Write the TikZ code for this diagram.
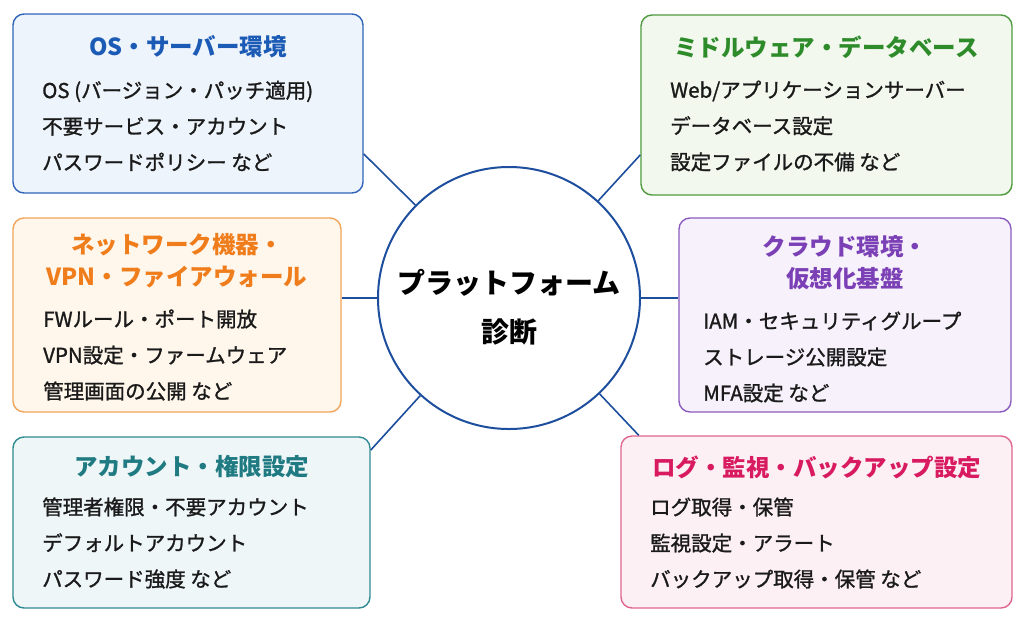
\documentclass[tikz,border=0pt]{standalone}
\usepackage{fontspec}
\setmainfont{Noto Sans CJK JP}
\newfontfamily\bodyfont{Noto Sans CJK JP}[FakeBold=1.2]
\definecolor{osB}{HTML}{2F64B8}\definecolor{osT}{HTML}{1B5BB5}\definecolor{osF}{HTML}{EEF4FC}
\definecolor{mwB}{HTML}{4E9A3E}\definecolor{mwT}{HTML}{2E8B2A}\definecolor{mwF}{HTML}{F2F8EE}
\definecolor{nwB}{HTML}{F2A55A}\definecolor{nwT}{HTML}{F07D1C}\definecolor{nwF}{HTML}{FFF6EC}
\definecolor{clB}{HTML}{8B5CBF}\definecolor{clT}{HTML}{7B40B5}\definecolor{clF}{HTML}{F6F1FB}
\definecolor{acB}{HTML}{2F8A92}\definecolor{acT}{HTML}{1F7A82}\definecolor{acF}{HTML}{EEF6F8}
\definecolor{lgB}{HTML}{E0658F}\definecolor{lgT}{HTML}{D81B60}\definecolor{lgF}{HTML}{FDF0F4}
\definecolor{hubc}{HTML}{1E4E9E}
\definecolor{bodyc}{HTML}{1A1A1A}
\begin{document}
\begin{tikzpicture}[x=1pt,y=-1pt,
  box/.style={rectangle, rounded corners=11pt, line width=1.4pt, inner sep=0pt},
  ttl/.style={font=\fontsize{23.5}{32}\selectfont\bfseries, align=center, inner sep=0pt},
  bdy/.style={font=\bodyfont\fontsize{20.5}{36}\selectfont, align=left, anchor=west, inner sep=0pt, text=bodyc},
  link/.style={draw=hubc, line width=1.6pt}]
\useasboundingbox (0,0) rectangle (1024,627);
\fill[white] (0,0) rectangle (1024,627);

% hub
\node[circle, draw=hubc, line width=2pt, fill=white, minimum size=262pt, inner sep=0pt] (hub) at (509,298) {};
\node[font=\fontsize{28}{49}\selectfont\bfseries, align=center, text=black, inner sep=0pt] (hubtxt) at (509,307) {プラットフォーム\\診断};

% boxes
\node[box, draw=osB, fill=osF, minimum width=350pt, minimum height=179pt] (os) at (188,103.5) {};
\node[box, draw=mwB, fill=mwF, minimum width=371pt, minimum height=180pt] (mw) at (826.5,105) {};
\node[box, draw=nwB, fill=nwF, minimum width=328pt, minimum height=194pt] (nw) at (177,315) {};
\node[box, draw=clB, fill=clF, minimum width=332pt, minimum height=194pt] (cl) at (845,315) {};
\node[box, draw=acB, fill=acF, minimum width=357pt, minimum height=171pt] (ac) at (191.5,522.5) {};
\node[box, draw=lgB, fill=lgF, minimum width=391pt, minimum height=172pt] (lg) at (816.5,522) {};

% connectors
\draw[link] (os.-16.4) -- (hub);
\draw[link] (mw.195.1) -- (hub);
\draw[link] (hub.west) -- (hub.west -| nw.east);
\draw[link] (hub.east) -- (hub.east -| cl.west);
\draw[link] (ac.22.65) -- (hub);
\draw[link] (lg.154.75) -- (hub);

% titles
\node[ttl, text=osT] (ost) at (188,47) {OS・サーバー環境};
\node[ttl, text=mwT] (mwt) at (826.5,47) {ミドルウェア・データベース};
\node[ttl, text=nwT] (nwt) at (177,261) {ネットワーク機器・\\VPN・ファイアウォール};
\node[ttl, text=clT] (clt) at (845,263) {クラウド環境・\\仮想化基盤};
\node[ttl, text=acT] (act) at (191.5,467) {アカウント・権限設定};
\node[ttl, text=lgT] (lgt) at (816.5,467) {ログ・監視・バックアップ設定};

% bodies
\node[bdy] (osb) at (42,126) {OS (バージョン・パッチ適用)\\不要サービス・アカウント\\パスワードポリシー など};
\node[bdy] (mwb) at (670,126) {Web/アプリケーションサーバー\\データベース設定\\設定ファイルの不備 など};
\node[bdy] (nwb) at (43,355) {FWルール・ポート開放\\VPN設定・ファームウェア\\管理画面の公開 など};
\node[bdy] (clb) at (703,357) {IAM・セキュリティグループ\\ストレージ公開設定\\MFA設定 など};
\node[bdy] (acb) at (42,543) {管理者権限・不要アカウント\\デフォルトアカウント\\パスワード強度 など};
\node[bdy] (lgb) at (650,543) {ログ取得・保管\\監視設定・アラート\\バックアップ取得・保管 など};
\end{tikzpicture}
\end{document}
